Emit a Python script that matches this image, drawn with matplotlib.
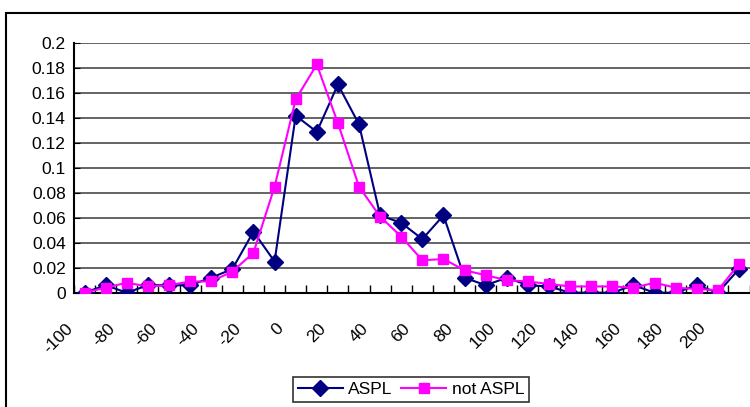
import numpy as np
import matplotlib
matplotlib.use('Agg')
import matplotlib.pyplot as plt
from matplotlib.patches import Rectangle
from matplotlib.transforms import ScaledTranslation

# categories (-100 .. 210, step 10)
categories = list(range(-100, 220, 10))
tick_labels = [str(c) for c in range(-100, 220, 20)]

aspl = [0.0, 0.006, 0.0, 0.006, 0.006, 0.006, 0.012, 0.019, 0.049, 0.025,
        0.142, 0.129, 0.167, 0.135, 0.062, 0.056, 0.043, 0.062, 0.012, 0.006,
        0.012, 0.006, 0.005, 0.0, 0.0, 0.0, 0.006, 0.0, 0.0, 0.006,
        0.0, 0.019]
not_aspl = [0.0, 0.004, 0.008, 0.005, 0.006, 0.009, 0.009, 0.017, 0.032, 0.085,
            0.155, 0.183, 0.136, 0.085, 0.061, 0.045, 0.026, 0.027, 0.018, 0.014,
            0.010, 0.009, 0.007, 0.005, 0.005, 0.005, 0.004, 0.008, 0.004, 0.003,
            0.002, 0.023]

plt.rcParams['font.family'] = ['Liberation Sans', 'DejaVu Sans']

W, H = 750, 407
fig = plt.figure(figsize=(W / 100, H / 100), dpi=100)
ax = fig.add_axes([74 / W, 1 - 292.7 / H, (749.6 - 74) / W, (292.7 - 43.3) / H])

x = np.arange(len(categories))
ax.plot(x, aspl, color='#000080', lw=1.5, marker='D', ms=8.5, mec='#000080',
        label='ASPL', zorder=3)
ax.plot(x, not_aspl, color='#FF00FF', lw=1.5, marker='s', ms=7, mec='#FF00FF',
        label='not ASPL', zorder=4)

ax.set_xlim(-0.5, len(categories) - 0.5)
ax.set_ylim(0, 0.2)

# y axis
yt = np.arange(0, 0.2001, 0.02)
ax.set_yticks(yt)
ax.set_yticklabels(['0'] + ['%g' % round(v, 2) for v in yt[1:]])
ax.yaxis.grid(True, color='#3a3a3a', lw=1.1)
ax.set_axisbelow(True)
ax.tick_params(axis='y', direction='in', length=4, labelsize=12.5, pad=6)

# x axis: labels every other category, tick marks between categories
ax.set_xticks(x[::2])
ax.set_xticklabels(tick_labels, rotation=45, ha='right', va='top')
ax.set_xticks(np.arange(-0.5, len(categories), 1.0), minor=True)
ax.tick_params(axis='x', which='major', length=0, pad=20, labelsize=12.5)
ax.tick_params(axis='x', which='minor', direction='in', length=6, width=1)
offset = ScaledTranslation(-9 / 100, 0, fig.dpi_scale_trans)
for lab in ax.get_xticklabels():
    lab.set_transform(lab.get_transform() + offset)

for s in ['top', 'right']:
    ax.spines[s].set_visible(False)
for s in ['left', 'bottom']:
    ax.spines[s].set_linewidth(1.5)
    ax.spines[s].set_color('black')

# chart area border (extends beyond the cropped image)
fig.patches.append(Rectangle((5.5 / W, -0.2), 1.5, (H - 13) / H + 0.2,
                             transform=fig.transFigure, fill=False,
                             edgecolor='black', lw=1.5, clip_on=False))

leg = fig.legend(loc='center', bbox_to_anchor=(411 / W, 1 - 389.5 / H), ncol=2,
                 frameon=True, fancybox=False, edgecolor='black', fontsize=12.5,
                 handlelength=2.6, handletextpad=0.3, columnspacing=0.5,
                 borderpad=0.3)
leg.get_frame().set_linewidth(1.2)

fig.savefig('out.png', dpi=100)
